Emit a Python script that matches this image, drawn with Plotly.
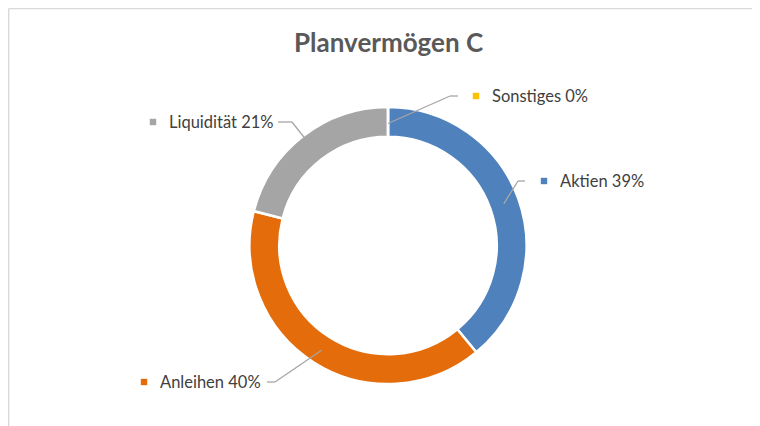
import math
import plotly.graph_objects as go

# ---- data ----
categories = ["Aktien", "Anleihen", "Liquidität", "Sonstiges"]
values = [39, 40, 21, 0]
pct_labels = ["39%", "40%", "21%", "0%"]
title_text = "Planvermögen C"

colors = ["#4F81BD", "#E46C0A", "#A5A5A5", "#FFC000"]

OFF = 8  # page body margin compensation
W, H = 760 - OFF, 426 - OFF
CX, CY, R = 388, 245.5, 138.5
HOLE = 0.785


def px(x):
    return (x - OFF) / W


def py(y):
    return 1 - (y - OFF) / H


fig = go.Figure()
fig.add_trace(go.Pie(
    labels=categories, values=values, sort=False, direction="clockwise",
    rotation=0, hole=HOLE, textinfo="none", hoverinfo="label+percent",
    marker=dict(colors=colors, line=dict(color="white", width=2.5)),
    showlegend=False,
    domain=dict(x=[px(CX - R), px(CX + R)], y=[py(CY + R), py(CY - R)]),
))

# label layout (positions only)
label_pos = {
    "Liquidität": dict(mx=153, my=122, tx=167, h=(278, 292), lr=137),
    "Sonstiges": dict(mx=476, my=96, tx=490, h=(458, 450), lr=122),
    "Aktien": dict(mx=544, my=181, tx=558, h=(525, 518), lr=123),
    "Anleihen": dict(mx=144, my=382, tx=158, h=(267, 275), lr=124),
}

total = sum(values)
cum = 0.0
shapes = []
annotations = []
for cat, v, col, pl in zip(categories, values, colors, pct_labels):
    mid = (cum + v / 2) / total * 2 * math.pi
    cum += v
    lp = label_pos[cat]
    ex = CX + lp["lr"] * math.sin(mid)
    ey = CY - lp["lr"] * math.cos(mid)
    hx0, hx1 = lp["h"]
    y = lp["my"]
    # leader line
    shapes.append(dict(type="line", xref="paper", yref="paper",
                       x0=px(hx0), y0=py(y), x1=px(hx1), y1=py(y),
                       line=dict(color="#A6A6A6", width=1.3)))
    shapes.append(dict(type="line", xref="paper", yref="paper",
                       x0=px(hx1), y0=py(y), x1=px(ex), y1=py(ey),
                       line=dict(color="#A6A6A6", width=1.3)))
    # marker square
    s = 3.2
    shapes.append(dict(type="rect", xref="paper", yref="paper",
                       x0=px(lp["mx"] - s), x1=px(lp["mx"] + s),
                       y0=py(y + s), y1=py(y - s),
                       fillcolor=col, line=dict(width=0)))
    annotations.append(dict(x=px(lp["tx"]), y=py(y), xref="paper", yref="paper",
                            text=f"{cat} {pl}", showarrow=False,
                            xanchor="left", yanchor="middle",
                            font=dict(family="Lato", size=16.5, color="#404040")))

# chart border (top and left visible)
shapes.append(dict(type="line", xref="paper", yref="paper",
                   x0=px(8.7), y0=py(8.5), x1=1, y1=py(8.5),
                   line=dict(color="#D9D9D9", width=1.4)))
shapes.append(dict(type="line", xref="paper", yref="paper",
                   x0=px(8.7), y0=py(8.5), x1=px(8.7), y1=0,
                   line=dict(color="#D9D9D9", width=1.4)))

annotations.append(dict(x=px(388), y=py(42), xref="paper", yref="paper",
                        text=f"<b>{title_text}</b>", showarrow=False,
                        xanchor="center", yanchor="middle",
                        font=dict(family="Lato", size=26, color="#595959")))

fig.update_layout(
    width=W, height=H, margin=dict(l=0, r=0, t=0, b=0),
    paper_bgcolor="white", plot_bgcolor="white",
    shapes=shapes, annotations=annotations,
)

fig.write_html("out.html")
